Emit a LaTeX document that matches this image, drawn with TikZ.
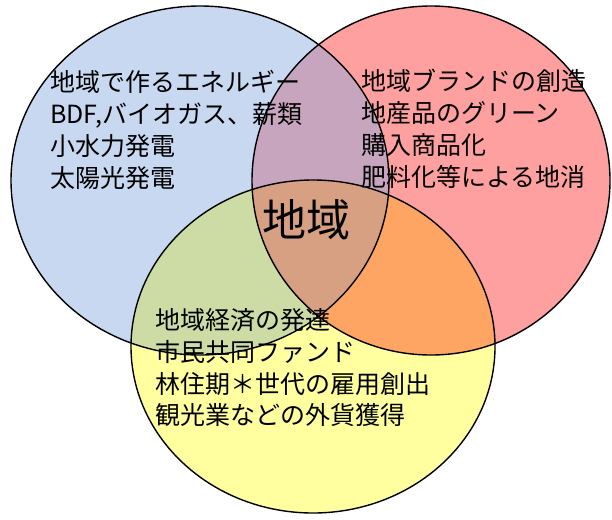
\documentclass[tikz,border=0pt]{standalone}
\usepackage{fontspec}
\setmainfont{Noto Sans CJK JP}
\definecolor{cblue}{RGB}{200,216,240}
\definecolor{cred}{RGB}{255,160,160}
\definecolor{cyel}{RGB}{255,255,160}
\definecolor{cbr}{RGB}{200,165,190}
\definecolor{cby}{RGB}{205,220,165}
\definecolor{cry}{RGB}{255,165,100}
\definecolor{cbry}{RGB}{215,160,130}
\tikzset{
  ring/.style={draw=black,line width=1.4pt},
  txt/.style={anchor=base west,inner sep=0pt,font=\fontsize{25}{32}\selectfont},
  bigtxt/.style={anchor=center,inner sep=0pt,font=\fontsize{44}{50}\selectfont}
}
\begin{document}
\begin{tikzpicture}[x=1pt,y=1pt]
\useasboundingbox (0,0) rectangle (612,-519);
\fill[white] (0,0) rectangle (612,-519);
\def\bluepath{(200,-180.5) ellipse [x radius=189, y radius=174.5]}
\def\redpath{(431,-180.5) ellipse [x radius=179, y radius=174.5]}
\def\yelpath{(313,-346.5) ellipse [x radius=182, y radius=166.5]}
\fill[cblue] \bluepath;
\fill[cred] \redpath;
\fill[cyel] \yelpath;
\begin{scope}
  \clip \bluepath;
  \fill[cbr] \redpath;
  \fill[cby] \yelpath;
\end{scope}
\begin{scope}
  \clip \redpath;
  \fill[cry] \yelpath;
\end{scope}
\begin{scope}
  \clip \bluepath;
  \clip \redpath;
  \fill[cbry] \yelpath;
\end{scope}
\draw[ring] \bluepath;
\draw[ring] \redpath;
\draw[ring] \yelpath;
% blue texts
\node[txt] (b1) at (50,-91) {地域で作るエネルギー};
\node[txt] (b2) at (50,-123) {BDF,バイオガス、薪類};
\node[txt] (b3) at (50,-155) {小水力発電};
\node[txt] (b4) at (50,-187) {太陽光発電};
% red texts
\node[txt] (r1) at (361,-90) {地域ブランドの創造};
\node[txt] (r2) at (361,-122) {地産品のグリーン};
\node[txt] (r3) at (361,-154.5) {購入商品化};
\node[txt] (r4) at (361,-186.5) {肥料化等による地消};
% yellow texts
\node[txt] (y1) at (155,-329.5) {地域経済の発達};
\node[txt] (y2) at (155,-361.5) {市民共同ファンド};
\node[txt] (y3) at (155,-393.5) {林住期＊世代の雇用創出};
\node[txt] (y4) at (155,-424.5) {観光業などの外貨獲得};
% centre
\node[bigtxt] (c) at (306,-220) {地域};
\end{tikzpicture}
\end{document}
